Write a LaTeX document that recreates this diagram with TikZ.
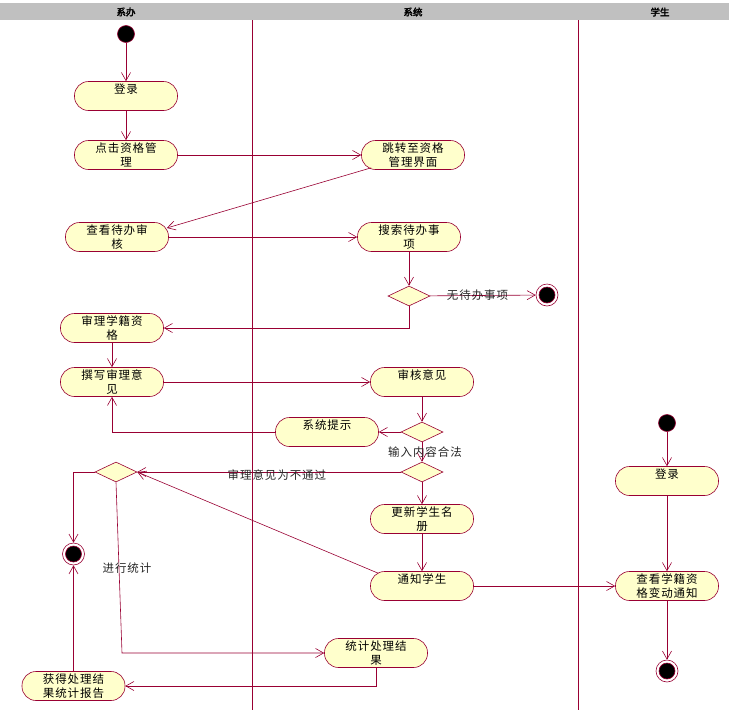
\documentclass[tikz,border=0pt]{standalone}
\usepackage{fontspec}
\newfontfamily\cjk[LetterSpace=8]{Noto Sans CJK SC}
\newfontfamily\cjkb[FakeBold=3]{Noto Sans CJK SC}
\usetikzlibrary{shapes.geometric,arrows.meta,calc}
\definecolor{ln}{RGB}{153,0,51}
\definecolor{fl}{RGB}{255,255,204}
\definecolor{hd}{RGB}{192,192,192}
\begin{document}
\begin{tikzpicture}[x=1pt,y=-1pt,
  act/.style={draw=ln, fill=fl, rounded corners=14pt, minimum width=103pt, minimum height=29pt,
    inner sep=0pt, align=center, line width=0.6pt, font=\cjk\fontsize{11.5}{14}\selectfont},
  dec/.style={draw=ln, fill=fl, diamond, minimum width=42pt, minimum height=20pt, inner sep=0pt, line width=0.6pt},
  startn/.style={circle, draw=ln, fill=black, minimum size=17pt, inner sep=0pt, line width=0.6pt},
  endn/.style={circle, draw=ln, fill=white, minimum size=22pt, inner sep=0pt, line width=0.6pt,
    path picture={\fill[black,draw=ln,line width=0.6pt] (path picture bounding box.center) circle (8pt);}},
  flow/.style={draw=ln, line width=0.6pt, -{Straight Barb[length=8pt,width=9pt]}},
  lbl/.style={font=\cjk\fontsize{11.5}{14}\selectfont, text=black!85, inner sep=0pt},
  hdr/.style={font=\cjkb\fontsize{9.5}{10}\selectfont, text=black},
  lane/.style={draw=ln, line width=0.6pt}
]
\useasboundingbox (0,0) rectangle (729,710);
\fill[white] (0,0) rectangle (729,710);
\fill[hd] (0,3) rectangle (729,20);
\node[hdr] (h1) at (126,12) {系办};
\node[hdr] (h2) at (413,12) {系统};
\node[hdr] (h3) at (660,12) {学生};
\draw[lane] (252,20) -- (252,710);
\draw[lane] (578,20) -- (578,710);

\node[startn] (s1) at (126,34) {};
\node[act] (a1) at (126,96) {登录\\~};
\node[act] (a2) at (126,155) {点击资格管\\理};
\node[act] (a3) at (413,155) {跳转至资格\\管理界面};
\node[act] (a4) at (117,237) {查看待办审\\核};
\node[act] (a5) at (409,237) {搜索待办事\\项};
\node[dec] (d1) at (409,296) {};
\node[endn] (e1) at (547,295) {};
\node[act] (a6) at (112,328) {审理学籍资\\格};
\node[act] (a7) at (112,382) {撰写审理意\\见};
\node[act] (a8) at (422,382) {审核意见\\~};
\node[act] (a9) at (327,432) {系统提示\\~};
\node[dec] (d2) at (422,432) {};
\node[dec] (d3) at (422,472) {};
\node[dec] (d4) at (116,472) {};
\node[endn] (e2) at (73.5,554) {};
\node[act] (a10) at (422,519) {更新学生名\\册};
\node[act] (a11) at (422,586) {通知学生\\~};
\node[act] (a12) at (376,653) {统计处理结\\果};
\node[act] (a13) at (73.5,686) {获得处理结\\果统计报告};
\node[startn] (s2) at (667,423) {};
\node[act] (b1) at (667,481) {登录\\~};
\node[act] (b2) at (667,586) {查看学籍资\\格变动通知};
\node[endn] (e3) at (667,671) {};
\coordinate (c1) at (122,653);

\draw[flow] (s1) -- (a1);
\draw[flow] (a1) -- (a2);
\draw[flow] (a2) -- (a3);
\draw[flow] ($(a3.south west)+(10,-2)$) -- ($(a4.east)+(-2,-9)$);
\draw[flow] (a4) -- (a5);
\draw[flow] (a5) -- (d1);
\draw[flow] (d1) -- node[lbl, pos=0.45]{无待办事项} (e1);
\draw[flow] (d1.south) |- (a6.east);
\draw[flow] (a6) -- (a7);
\draw[flow] (a7) -- (a8);
\draw[flow] (a8) -- (d2);
\draw[flow] (d2) -- (a9);
\draw[flow] (a9.west) -| (a7.south);
\draw[flow] (d2) -- node[lbl, xshift=3pt]{输入内容合法} (d3);
\draw[flow] (d3) -- node[lbl, pos=0.47, yshift=-3pt]{审理意见为不通过} (d4);
\draw[flow] (d3) -- (a10);
\draw[flow] (a10) -- (a11);
\draw[flow] ($(a11.north west)+(8,2)$) -- (d4.east);
\draw[flow] (a11) -- (b2);
\draw[flow] (d4.west) -| (e2.north);
\draw[flow] (d4.south) -- node[lbl, pos=0.5, xshift=8pt]{进行统计} (c1) -- (a12.west);
\draw[flow] (a12.south) |- (a13.east);
\draw[flow] (a13.north) -- (e2.south);
\draw[flow] (s2) -- (b1);
\draw[flow] (b1) -- (b2);
\draw[flow] (b2) -- (e3);
\end{tikzpicture}
\end{document}
